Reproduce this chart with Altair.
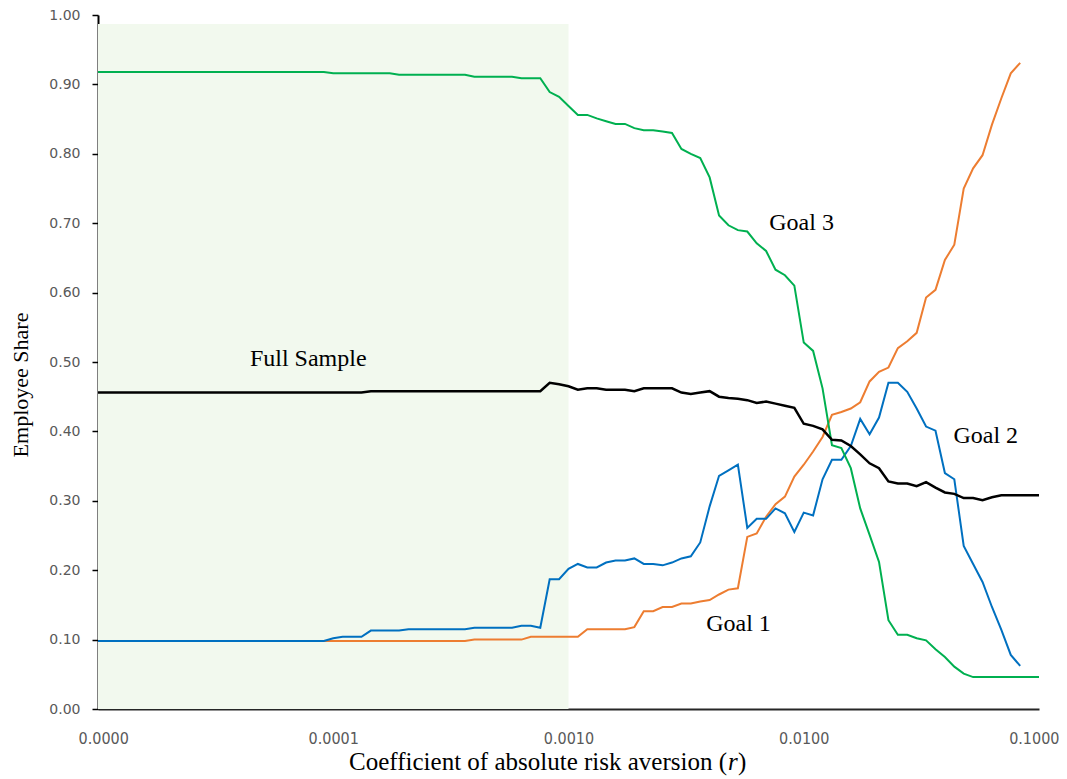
import altair as alt
import pandas as pd

# log-spaced grid of r: 25 steps per decade from 1e-5 to 1e-1
mantissa = [1.000, 1.096, 1.202, 1.318, 1.445, 1.585, 1.738, 1.905, 2.089, 2.291,
            2.512, 2.754, 3.020, 3.311, 3.631, 3.981, 4.365, 4.786, 5.248, 5.754,
            6.310, 6.918, 7.586, 8.318, 9.120]
decades = [1e-5, 1e-4, 1e-3, 1e-2]
r_values = [m * d for d in decades for m in mantissa] + [0.1]

full_sample = [
    0.456, 0.456, 0.456, 0.456, 0.456, 0.456, 0.456, 0.456, 0.456, 0.456,
    0.456, 0.456, 0.456, 0.456, 0.456, 0.456, 0.456, 0.456, 0.456, 0.456,
    0.456, 0.456, 0.456, 0.456, 0.456, 0.456, 0.456, 0.456, 0.456, 0.458,
    0.458, 0.458, 0.458, 0.458, 0.458, 0.458, 0.458, 0.458, 0.458, 0.458,
    0.458, 0.458, 0.458, 0.458, 0.458, 0.458, 0.458, 0.458, 0.470, 0.468,
    0.465, 0.460, 0.462, 0.462, 0.460, 0.460, 0.460, 0.458, 0.462, 0.462,
    0.462, 0.462, 0.456, 0.454, 0.456, 0.458, 0.450, 0.448, 0.447, 0.445,
    0.441, 0.443, 0.440, 0.437, 0.434, 0.411, 0.408, 0.403, 0.388, 0.387,
    0.379, 0.367, 0.354, 0.347, 0.328, 0.325, 0.325, 0.321, 0.327, 0.319,
    0.312, 0.310, 0.304, 0.304, 0.301, 0.305, 0.308, 0.308, 0.308, 0.308,
    0.308]

goal3 = [
    0.918, 0.918, 0.918, 0.918, 0.918, 0.918, 0.918, 0.918, 0.918, 0.918,
    0.918, 0.918, 0.918, 0.918, 0.918, 0.918, 0.918, 0.918, 0.918, 0.918,
    0.918, 0.918, 0.918, 0.918, 0.918, 0.916, 0.916, 0.916, 0.916, 0.916,
    0.916, 0.916, 0.914, 0.914, 0.914, 0.914, 0.914, 0.914, 0.914, 0.914,
    0.911, 0.911, 0.911, 0.911, 0.911, 0.909, 0.909, 0.909, 0.889, 0.882,
    0.869, 0.856, 0.856, 0.851, 0.847, 0.843, 0.843, 0.837, 0.834, 0.834,
    0.832, 0.830, 0.807, 0.800, 0.794, 0.766, 0.711, 0.697, 0.690, 0.688,
    0.671, 0.660, 0.633, 0.625, 0.610, 0.528, 0.516, 0.462, 0.380, 0.376,
    0.347, 0.289, 0.251, 0.212, 0.128, 0.107, 0.107, 0.102, 0.099, 0.086,
    0.075, 0.061, 0.051, 0.046, 0.046, 0.046, 0.046, 0.046, 0.046, 0.046,
    0.046]

goal2 = [
    0.098, 0.098, 0.098, 0.098, 0.098, 0.098, 0.098, 0.098, 0.098, 0.098,
    0.098, 0.098, 0.098, 0.098, 0.098, 0.098, 0.098, 0.098, 0.098, 0.098,
    0.098, 0.098, 0.098, 0.098, 0.098, 0.102, 0.104, 0.104, 0.104, 0.113,
    0.113, 0.113, 0.113, 0.115, 0.115, 0.115, 0.115, 0.115, 0.115, 0.115,
    0.117, 0.117, 0.117, 0.117, 0.117, 0.120, 0.120, 0.117, 0.187, 0.187,
    0.202, 0.209, 0.204, 0.204, 0.211, 0.214, 0.214, 0.217, 0.209, 0.209,
    0.207, 0.211, 0.217, 0.220, 0.240, 0.292, 0.336, 0.344, 0.352, 0.261,
    0.274, 0.274, 0.289, 0.282, 0.255, 0.283, 0.279, 0.331, 0.359, 0.359,
    0.379, 0.418, 0.396, 0.420, 0.470, 0.470, 0.457, 0.433, 0.407, 0.401,
    0.340, 0.331, 0.235, 0.209, 0.183, 0.147, 0.114, 0.078, 0.062, None,
    None]

goal1 = [
    0.098, 0.098, 0.098, 0.098, 0.098, 0.098, 0.098, 0.098, 0.098, 0.098,
    0.098, 0.098, 0.098, 0.098, 0.098, 0.098, 0.098, 0.098, 0.098, 0.098,
    0.098, 0.098, 0.098, 0.098, 0.098, 0.098, 0.098, 0.098, 0.098, 0.098,
    0.098, 0.098, 0.098, 0.098, 0.098, 0.098, 0.098, 0.098, 0.098, 0.098,
    0.100, 0.100, 0.100, 0.100, 0.100, 0.100, 0.104, 0.104, 0.104, 0.104,
    0.104, 0.104, 0.115, 0.115, 0.115, 0.115, 0.115, 0.118, 0.141, 0.141,
    0.147, 0.147, 0.152, 0.152, 0.155, 0.157, 0.165, 0.172, 0.174, 0.248,
    0.253, 0.277, 0.295, 0.306, 0.335, 0.352, 0.371, 0.392, 0.424, 0.428,
    0.433, 0.442, 0.472, 0.486, 0.492, 0.520, 0.530, 0.542, 0.593, 0.604,
    0.647, 0.669, 0.750, 0.779, 0.798, 0.842, 0.880, 0.916, 0.931, None,
    None]

series_names = ["Full Sample", "Goal 1", "Goal 2", "Goal 3"]
series_colors = ["#000000", "#ED7D31", "#0070C0", "#00B050"]

x_ticks = [0.00001, 0.0001, 0.001, 0.01, 0.1]
y_ticks = [0.0, 0.1, 0.2, 0.3, 0.4, 0.5, 0.6, 0.7, 0.8, 0.9, 1.0]

label_text = ["Full Sample", "Goal 3", "Goal 2", "Goal 1"]
label_r = [7.83e-5, 0.00979, 0.0594, 0.00528]
label_y = [0.494, 0.690, 0.383, 0.1124]

shade = pd.DataFrame({"r0": [0.00001], "r1": [0.001], "y0": [0.0], "y1": [0.987]})

rows = []
for name, vals in zip(series_names, [full_sample, goal1, goal2, goal3]):
    for r, v in zip(r_values, vals):
        if v is not None:
            rows.append({"r": r, "share": v, "series": name})
df = pd.DataFrame(rows)

W, H = 941, 694
xscale = alt.Scale(type="log", domain=[0.00001, 0.1], nice=False)
yscale = alt.Scale(domain=[0, 1], nice=False, zero=False)

x_axis = alt.Axis(values=x_ticks, format=".4f", title=None, grid=False,
                  ticks=False, domainColor="#262626", domainWidth=2,
                  labelFont="Liberation Sans Narrow, DejaVu Sans Condensed, Liberation Sans",
                  labelFontSize=16,
                  labelColor="#595959", labelPadding=21,
                  labelFlush=True, labelFlushOffset=20)
y_axis = alt.Axis(values=y_ticks, format=".2f", title=None, grid=False,
                  ticks=True, tickSize=6, tickColor="#000000", tickWidth=1.5,
                  domainColor="#000000", domainWidth=2,
                  labelFont="DejaVu Sans", labelFontSize=14,
                  labelColor="#595959", labelPadding=12)

bg = alt.Chart(shade).mark_rect(color="#F2F9EE").encode(
    x=alt.X("r0:Q", scale=xscale, axis=x_axis),
    x2="r1:Q",
    y=alt.Y("y0:Q", scale=yscale, axis=y_axis),
    y2="y1:Q",
)

def line_layer(name, color, width):
    return alt.Chart(df).transform_filter(alt.datum.series == name).mark_line(
        color=color, strokeWidth=width, interpolate="linear"
    ).encode(
        x=alt.X("r:Q", scale=xscale),
        y=alt.Y("share:Q", scale=yscale),
    )

lines = [
    line_layer("Goal 1", series_colors[1], 2),
    line_layer("Goal 2", series_colors[2], 2),
    line_layer("Goal 3", series_colors[3], 2),
    line_layer("Full Sample", series_colors[0], 2.5),
]

labels_df = pd.DataFrame({"text": label_text, "r": label_r, "y": label_y})
labels = alt.Chart(labels_df).mark_text(
    font="Liberation Serif", fontSize=24, color="#000000",
    align="center", baseline="alphabetic"
).encode(
    x=alt.X("r:Q", scale=xscale),
    y=alt.Y("y:Q", scale=yscale),
    text="text:N",
)

TB = 755
xt_main = alt.Chart(pd.DataFrame({"t": ["Coefficient of absolute risk aversion ("]})).mark_text(
    font="Liberation Serif", fontSize=25, align="right", baseline="alphabetic", color="#000000"
).encode(x=alt.value(629), y=alt.value(TB), text="t:N")
xt_r = alt.Chart(pd.DataFrame({"t": ["r"]})).mark_text(
    font="Liberation Serif", fontSize=25, fontStyle="italic", align="left",
    baseline="alphabetic", color="#000000"
).encode(x=alt.value(630), y=alt.value(TB), text="t:N")
xt_close = alt.Chart(pd.DataFrame({"t": [")"]})).mark_text(
    font="Liberation Serif", fontSize=25, align="left", baseline="alphabetic", color="#000000"
).encode(x=alt.value(640), y=alt.value(TB), text="t:N")

yt = alt.Chart(pd.DataFrame({"t": ["Employee Share"]})).mark_text(
    font="Liberation Serif", fontSize=22, align="center", baseline="alphabetic",
    angle=270, color="#000000"
).encode(x=alt.value(-70), y=alt.value(370), text="t:N")

chart = alt.layer(bg, *lines, labels, xt_main, xt_r, xt_close, yt).properties(
    width=W, height=H,
    autosize=alt.AutoSizeParams(type="none"),
    padding={"left": 90, "top": 7, "right": 20, "bottom": 70},
).configure_view(stroke=None)

chart.save("out.html", embed_options={"renderer": "svg", "actions": False})
